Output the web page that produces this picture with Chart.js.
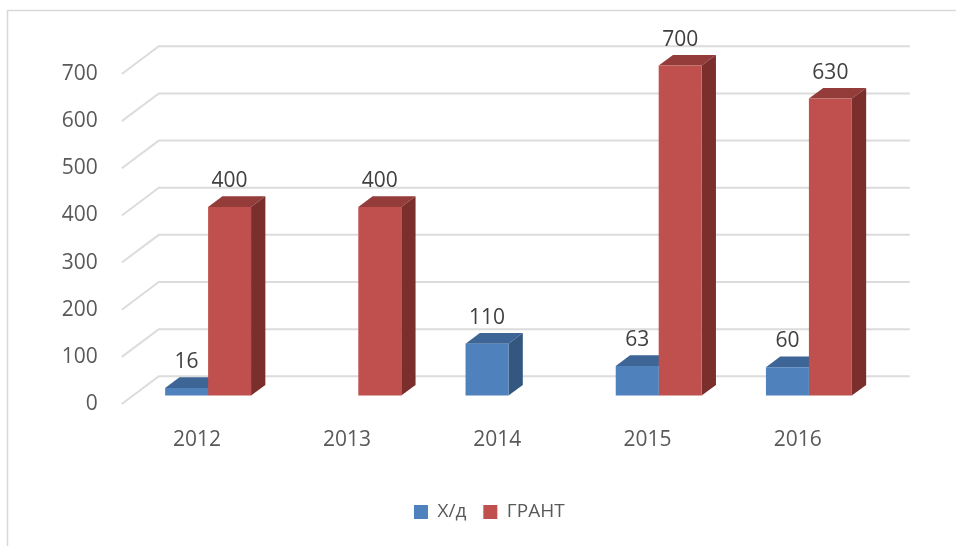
<!DOCTYPE html>
<html>
<head>
<meta charset="utf-8">
<script src="https://cdn.jsdelivr.net/npm/chart.js@4"></script>
<style>
  html, body { margin: 0; padding: 0; background: #fff; }
  #wrap { width: 956px; height: 546px; }
</style>
</head>
<body>
<div id="wrap"><canvas id="mycanvas"></canvas></div>
<script>
var years = ['2012', '2013', '2014', '2015', '2016'];
var hdValues = [16, null, 110, 63, 60];
var grantValues = [400, 400, null, 700, 630];
var seriesNames = ['Х/д', 'ГРАНТ'];

// depth of the floor/walls and of the bars (px)
var WALL_DX = 37, WALL_DY = -27.7;
var BAR_SHIFT_X = 11.2, BAR_SHIFT_Y = -8.4;
var BAR_DX = 14.3, BAR_DY = -10.7;

var shades = [
    { top: '#3D6596', side: '#33577F' },
    { top: '#933C3A', side: '#7A2F2D' }
];

var fontFam = '"Open Sans", "DejaVu Sans", sans-serif';

var threeD = {
    id: 'threeD',
    afterLayout: function (chart) {
        // nudge legend a bit left, like the original
        chart.legend.left -= 8;
        chart.legend.right -= 8;
    },
    beforeDraw: function (chart) {
        var ctx = chart.ctx;
        ctx.save();
        ctx.strokeStyle = '#D9D9D9';
        ctx.lineWidth = 1.5;
        ctx.beginPath();
        ctx.moveTo(7.5, 546);
        ctx.lineTo(7.5, 10.5);
        ctx.lineTo(956, 10.5);
        ctx.stroke();
        ctx.restore();
    },
    beforeDatasetsDraw: function (chart) {
        var ctx = chart.ctx;
        var area = chart.chartArea;
        var y = chart.scales.y;
        ctx.save();
        ctx.strokeStyle = '#DCDCDC';
        ctx.lineWidth = 2;
        y.ticks.forEach(function (t) {
            var py = y.getPixelForValue(t.value);
            ctx.beginPath();
            ctx.moveTo(area.left, py);
            ctx.lineTo(area.left + WALL_DX, py + WALL_DY);
            ctx.lineTo(area.right + WALL_DX, py + WALL_DY);
            ctx.stroke();
        });
        ctx.restore();

        ctx.save();
        ctx.translate(BAR_SHIFT_X, BAR_SHIFT_Y);
        chart.data.datasets.forEach(function (ds, di) {
            var meta = chart.getDatasetMeta(di);
            meta.data.forEach(function (bar, i) {
                if (ds.data[i] == null) return;
                var l = bar.x - bar.width / 2, r = bar.x + bar.width / 2;
                var top = bar.y, base = bar.base;
                ctx.fillStyle = shades[di].top;
                ctx.beginPath();
                ctx.moveTo(l, top);
                ctx.lineTo(r, top);
                ctx.lineTo(r + BAR_DX, top + BAR_DY);
                ctx.lineTo(l + BAR_DX, top + BAR_DY);
                ctx.closePath();
                ctx.fill();
                ctx.fillStyle = shades[di].side;
                ctx.beginPath();
                ctx.moveTo(r, top);
                ctx.lineTo(r + BAR_DX, top + BAR_DY);
                ctx.lineTo(r + BAR_DX, base + BAR_DY);
                ctx.lineTo(r, base);
                ctx.closePath();
                ctx.fill();
            });
        });
    },
    afterDatasetsDraw: function (chart) {
        var ctx = chart.ctx;
        ctx.fillStyle = '#404040';
        ctx.font = '21px ' + fontFam;
        ctx.textAlign = 'center';
        ctx.textBaseline = 'middle';
        chart.data.datasets.forEach(function (ds, di) {
            var meta = chart.getDatasetMeta(di);
            meta.data.forEach(function (bar, i) {
                if (ds.data[i] == null) return;
                ctx.fillText(String(ds.data[i]), bar.x, bar.y - 26);
            });
        });
        ctx.restore();
    }
};

var chartdata = {
    labels: years,
    datasets: [{
        label: seriesNames[0],
        backgroundColor: '#4F81BD',
        data: hdValues
    }, {
        label: seriesNames[1],
        backgroundColor: '#C0504D',
        data: grantValues
    }]
};

var ctx = document.getElementById('mycanvas');

var barGraph = new Chart(ctx, {
    type: 'bar',
    data: chartdata,
    plugins: [threeD],
    options: {
        responsive: true,
        maintainAspectRatio: false,
        animation: false,
        clip: false,
        categoryPercentage: 0.572,
        barPercentage: 1,
        layout: { padding: { top: 74, right: 83.2, bottom: 14.5, left: 0 } },
        scales: {
            x: {
                grid: { display: false, drawTicks: false },
                border: { display: false },
                ticks: { color: '#595959', font: { family: fontFam, size: 21 }, padding: 23 },
                afterFit: function (s) { s.height = 81.5; }
            },
            y: {
                min: 0,
                max: 700,
                grid: { display: false, drawTicks: false },
                border: { display: false },
                ticks: { stepSize: 100, color: '#595959', font: { family: fontFam, size: 21 }, padding: 24 },
                afterFit: function (s) { s.width = 121.8; }
            }
        },
        plugins: {
            legend: {
                position: 'bottom',
                fullSize: false,
                labels: {
                    boxWidth: 14,
                    boxHeight: 14,
                    padding: 17,
                    color: '#595959',
                    font: { family: fontFam, size: 19 }
                }
            },
            tooltip: { enabled: false }
        }
    }
});
</script>
</body>
</html>
